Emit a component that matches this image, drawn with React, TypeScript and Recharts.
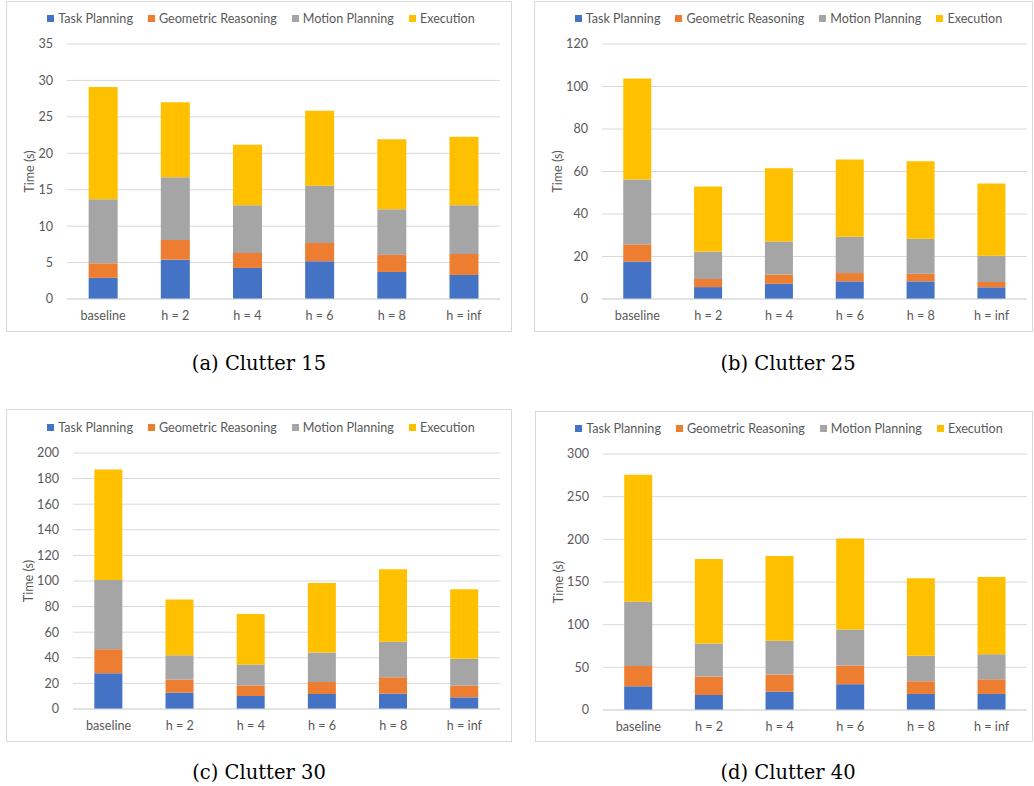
import React from 'react';
import { BarChart, Bar, XAxis, YAxis, CartesianGrid, Legend, Label } from 'recharts';

const categories = ['baseline', 'h = 2', 'h = 4', 'h = 6', 'h = 8', 'h = inf'];
const seriesNames = ['Task Planning', 'Geometric Reasoning', 'Motion Planning', 'Execution'];
const seriesKeys = ['task', 'geom', 'motion', 'exec'];
const colors = ['#4472C4', '#ED7D31', '#A5A5A5', '#FFC000'];

// Clutter 15
const c15Task = [2.9, 5.4, 4.26, 5.18, 3.71, 3.3];
const c15Geom = [2.0, 2.7, 2.06, 2.52, 2.38, 2.88];
const c15Motion = [8.8, 8.6, 6.55, 7.83, 6.23, 6.69];
const c15Exec = [15.4, 10.3, 8.29, 10.31, 9.62, 9.39];
const c15Ticks = [0, 5, 10, 15, 20, 25, 30, 35];

// Clutter 25
const c25Task = [17.6, 5.6, 7.2, 8.3, 8.3, 5.5];
const c25Geom = [8.1, 3.8, 4.3, 3.9, 3.6, 2.5];
const c25Motion = [30.5, 12.9, 15.6, 17.1, 16.5, 12.4];
const c25Exec = [47.6, 30.7, 34.4, 36.4, 36.4, 34.0];
const c25Ticks = [0, 20, 40, 60, 80, 100, 120];

// Clutter 30
const c30Task = [27.9, 12.8, 10.2, 11.7, 12.0, 9.1];
const c30Geom = [18.8, 10.2, 8.1, 9.4, 12.8, 9.2];
const c30Motion = [54.1, 19.0, 16.4, 23.0, 27.7, 20.9];
const c30Exec = [86.4, 43.6, 39.5, 54.3, 56.6, 54.3];
const c30Ticks = [0, 20, 40, 60, 80, 100, 120, 140, 160, 180, 200];

// Clutter 40
const c40Task = [27.8, 17.6, 21.5, 30.2, 18.8, 18.8];
const c40Geom = [23.9, 21.6, 20.0, 21.9, 14.9, 17.2];
const c40Motion = [75.2, 38.7, 39.6, 42.3, 29.8, 29.4];
const c40Exec = [148.8, 99.1, 99.5, 106.5, 90.8, 90.5];
const c40Ticks = [0, 50, 100, 150, 200, 250, 300];

const captions = ['(a) Clutter 15', '(b) Clutter 25', '(c) Clutter 30', '(d) Clutter 40'];

function buildRows(task: number[], geom: number[], motion: number[], exec: number[]) {
  return categories.map((name, i) => ({
    name,
    task: task[i],
    geom: geom[i],
    motion: motion[i],
    exec: exec[i],
  }));
}

const FONT = 'Lato, "Open Sans", sans-serif';
const TXT = '#595959';
const FS = 12.6;
const LEGEND_H = 16;

const LegendContent = () => (
  <div
    style={{
      display: 'flex',
      justifyContent: 'center',
      alignItems: 'center',
      height: LEGEND_H,
      fontFamily: FONT,
      fontSize: FS,
      color: TXT,
      whiteSpace: 'nowrap',
    }}
  >
    {seriesNames.map((n, i) => (
      <div key={n} style={{ display: 'flex', alignItems: 'center', marginRight: i < 3 ? 15 : 0 }}>
        <span style={{ width: 7, height: 7, background: colors[i], marginRight: 4, display: 'inline-block' }} />
        <span>{n}</span>
      </div>
    ))}
  </div>
);

type PanelCfg = {
  box: { x: number; y: number; w: number; h: number };
  plot: { left: number; right: number; top: number; bottom: number };
  legendY: number;
  legendDx: number;
  yLabelX: number;
  ticks: number[];
  data: any[];
  caption: string;
  captionX: number;
  captionY: number;
};

const panels: PanelCfg[] = [
  {
    box: { x: 6, y: 1, w: 506, h: 331 },
    plot: { left: 67, right: 500, top: 44, bottom: 299 },
    legendY: 18.5,
    legendDx: 2,
    yLabelX: 29,
    ticks: c15Ticks,
    data: buildRows(c15Task, c15Geom, c15Motion, c15Exec),
    caption: captions[0],
    captionX: 259,
    captionY: 364,
  },
  {
    box: { x: 534, y: 1, w: 499, h: 331 },
    plot: { left: 602, right: 1027, top: 44, bottom: 299 },
    legendY: 18,
    legendDx: 5,
    yLabelX: 557,
    ticks: c25Ticks,
    data: buildRows(c25Task, c25Geom, c25Motion, c25Exec),
    caption: captions[1],
    captionX: 788,
    captionY: 364,
  },
  {
    box: { x: 6, y: 409, w: 506, h: 333 },
    plot: { left: 73, right: 500, top: 453, bottom: 709 },
    legendY: 427,
    legendDx: 2,
    yLabelX: 28,
    ticks: c30Ticks,
    data: buildRows(c30Task, c30Geom, c30Motion, c30Exec),
    caption: captions[2],
    captionX: 259,
    captionY: 773,
  },
  {
    box: { x: 535, y: 411, w: 498, h: 331 },
    plot: { left: 603, right: 1027, top: 454, bottom: 710 },
    legendY: 428,
    legendDx: 5,
    yLabelX: 558,
    ticks: c40Ticks,
    data: buildRows(c40Task, c40Geom, c40Motion, c40Exec),
    caption: captions[3],
    captionX: 788,
    captionY: 773,
  },
];

const X_AXIS_H = 30;

function Panel({ cfg }: { cfg: PanelCfg }) {
  const { box, plot } = cfg;
  const yAxisW = plot.left - box.x;
  const margin = {
    top: plot.top - box.y - LEGEND_H,
    right: box.x + box.w - plot.right,
    left: 0,
    bottom: box.y + box.h - plot.bottom - X_AXIS_H,
  };
  const maxTick = cfg.ticks[cfg.ticks.length - 1];
  const labelX = cfg.yLabelX - box.x;
  const labelY = (plot.top + plot.bottom) / 2 - box.y;
  return (
    <>
      <div
        style={{
          position: 'absolute',
          left: box.x,
          top: box.y,
          width: box.w,
          height: box.h,
          boxSizing: 'border-box',
          border: '1px solid #d9d9d9',
          background: '#fff',
        }}
      />
      <div style={{ position: 'absolute', left: box.x, top: box.y }}>
        <BarChart width={box.w} height={box.h} data={cfg.data} margin={margin} barCategoryGap="30%">
          <CartesianGrid vertical={false} stroke="#d9d9d9" />
          <Legend
            verticalAlign="top"
            content={LegendContent as any}
            wrapperStyle={{ top: cfg.legendY - box.y - LEGEND_H / 2, left: cfg.legendDx, width: box.w }}
          />
          <XAxis
            dataKey="name"
            height={X_AXIS_H}
            axisLine={{ stroke: '#d9d9d9' }}
            tickLine={false}
            tickSize={6}
            tickMargin={6}
            tick={{ fill: TXT, fontSize: FS, fontFamily: FONT }}
            interval={0}
          />
          <YAxis
            width={yAxisW}
            domain={[0, maxTick]}
            ticks={cfg.ticks}
            interval={0}
            axisLine={false}
            tickLine={false}
            tickSize={6}
            tickMargin={8}
            tick={{ fill: TXT, fontSize: FS, fontFamily: FONT }}
          >
            <Label
              content={() => (
                <text
                  x={labelX}
                  y={labelY}
                  transform={`rotate(-90 ${labelX} ${labelY})`}
                  textAnchor="middle"
                  dominantBaseline="central"
                  fill={TXT}
                  fontSize={FS}
                  fontFamily={FONT}
                >
                  Time (s)
                </text>
              )}
            />
          </YAxis>
          {seriesKeys.map((k, i) => (
            <Bar key={k} dataKey={k} name={seriesNames[i]} stackId="a" fill={colors[i]} isAnimationActive={false} />
          ))}
        </BarChart>
      </div>
      <div
        style={{
          position: 'absolute',
          left: cfg.captionX - 150,
          width: 300,
          top: cfg.captionY - 14,
          height: 28,
          lineHeight: '28px',
          textAlign: 'center',
          fontFamily: '"DejaVu Serif", "Liberation Serif", serif',
          fontSize: 19.5,
          color: '#000',
        }}
      >
        {cfg.caption}
      </div>
    </>
  );
}

export default function App() {
  return (
    <div style={{ position: 'absolute', left: 0, top: 0, width: 1034, height: 786, background: '#fff' }}>
      {panels.map((p) => (
        <Panel key={p.caption} cfg={p} />
      ))}
    </div>
  );
}
